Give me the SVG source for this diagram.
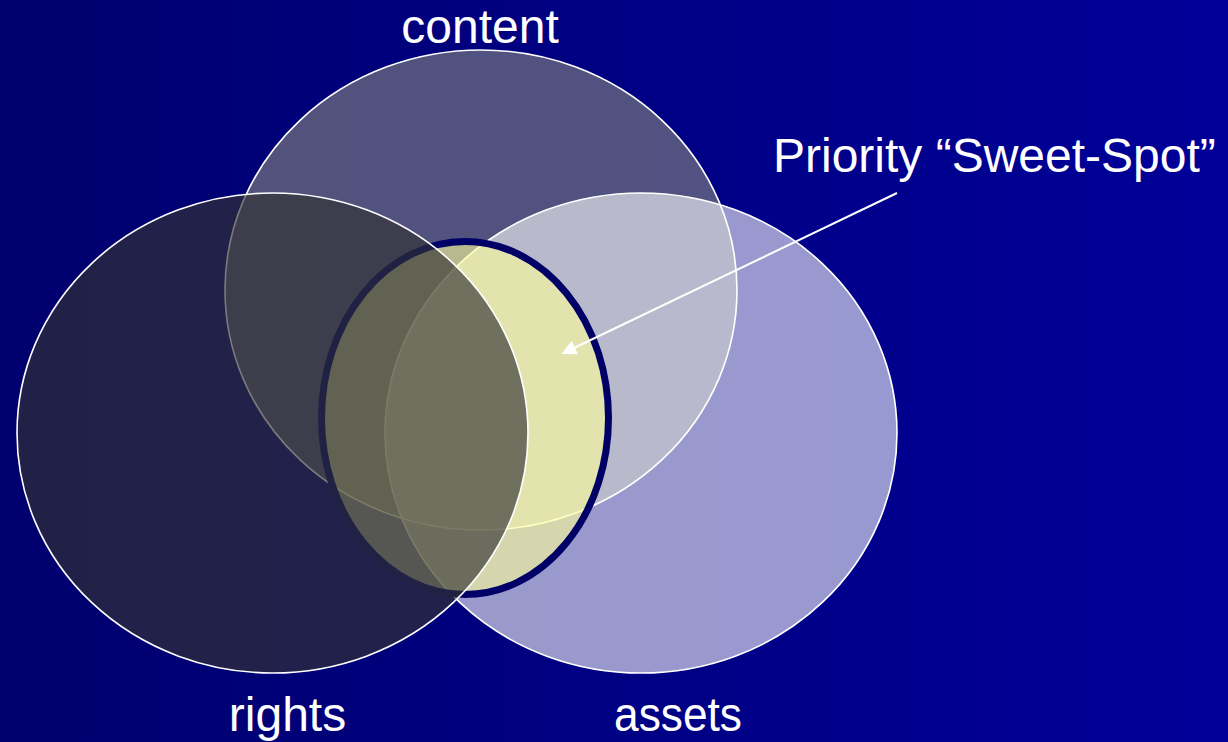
<svg xmlns="http://www.w3.org/2000/svg" width="1228" height="742" viewBox="0 0 1228 742">
  <defs>
    <linearGradient id="bg" x1="0" y1="0" x2="1" y2="0">
      <stop offset="0" stop-color="#00006e"/>
      <stop offset="1" stop-color="#000099"/>
    </linearGradient>
    <marker id="arrowhead" markerUnits="userSpaceOnUse" markerWidth="16" markerHeight="16" refX="0" refY="7.5" orient="auto" viewBox="0 0 16 15">
      <path d="M0,0 L15,7.5 L0,15 z" fill="#ffffff"/>
    </marker>
    <style>
      .set { stroke: #ffffff; stroke-width: 1.6; }
      .label { font-family: "Liberation Sans", Arial, sans-serif; font-size: 48px; fill: #ffffff; }
      .connector { stroke: #ffffff; stroke-width: 2; fill: none; }
    </style>
  </defs>

  <rect x="0" y="0" width="1228" height="742" fill="url(#bg)"/>

  <!-- the three sets, drawn back to front -->
  <g id="content">
    <ellipse class="set" cx="481" cy="290" rx="256" ry="240" fill="#808080" fill-opacity="0.64"/>
    <text class="label" x="480" y="43" text-anchor="middle">content</text>
  </g>

  <g id="assets">
    <ellipse class="set" cx="641" cy="433" rx="256" ry="240" fill="#ffffff" fill-opacity="0.6"/>
    <text class="label" x="678" y="731" text-anchor="middle" textLength="128" lengthAdjust="spacingAndGlyphs">assets</text>
  </g>

  <!-- highlighted overlap -->
  <g id="sweet-spot">
    <ellipse cx="465" cy="418" rx="143.5" ry="176.5" fill="#ffff99" fill-opacity="0.6" stroke="#000066" stroke-width="7"/>
  </g>

  <g id="rights">
    <ellipse class="set" cx="272.5" cy="433" rx="255.5" ry="240" fill="#333333" fill-opacity="0.65"/>
    <text class="label" x="287.5" y="731" text-anchor="middle">rights</text>
  </g>

  <g id="connectors">
    <line class="connector" x1="897" y1="193" x2="575" y2="347.5" marker-end="url(#arrowhead)"/>
  </g>

  <g id="sweet-spot-label">
    <text class="label" x="773" y="172">Priority “Sweet-Spot”</text>
  </g>
</svg>
